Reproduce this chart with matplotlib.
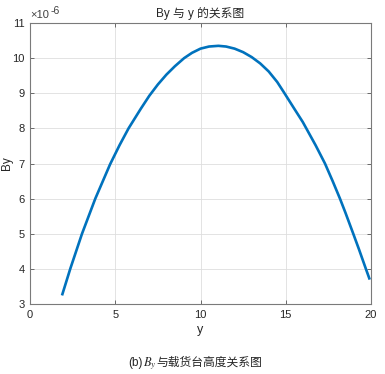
import matplotlib
matplotlib.use("Agg")
import matplotlib.pyplot as plt
from matplotlib.font_manager import FontProperties

plt.rcParams['font.family'] = ['Liberation Sans', 'Noto Sans CJK SC', 'DejaVu Sans']

# data (By in units of 1e-6)
y_pos = [1.9, 2.36, 3.05, 3.83, 4.70, 5.25, 5.78, 6.5, 7.0, 7.5, 8.0, 8.5, 9.04, 9.5,
         10.0, 10.5, 11.05, 11.5, 12.0, 12.5, 13.0, 13.5, 14.0, 14.5, 14.9, 15.5,
         16.0, 16.75, 17.3, 17.75, 18.18, 18.5, 18.96, 19.3, 19.7, 19.9]
By_val = [3.28, 4.0, 5.0, 6.0, 6.98, 7.52, 8.0, 8.56, 8.93, 9.25, 9.53, 9.77, 10.0, 10.15,
          10.27, 10.33, 10.35, 10.33, 10.27, 10.17, 10.03, 9.85, 9.62, 9.32, 9.02, 8.56,
          8.18, 7.52, 7.0, 6.5, 6.0, 5.6, 5.0, 4.55, 4.0, 3.73]
x_ticks = [0, 5, 10, 15, 20]
y_ticks = [3, 4, 5, 6, 7, 8, 9, 10, 11]
title_text = 'By 与 y 的关系图'
caption_parts = ['(b)', '$B_y$', '与载货台高度关系图']

fig = plt.figure(figsize=(3.85, 3.74), dpi=100)
ax = fig.add_axes([30/385, 70/374, 341/385, 281/374])

ax.plot(y_pos, By_val, color='#0072BD', linewidth=1.9, solid_joinstyle='round')
ax.set_xlim(0, 20)
ax.set_ylim(3, 11)
ax.set_xticks(x_ticks)
ax.set_yticks(y_ticks)

ax.grid(True, color='#dedede', linewidth=0.6)
ax.set_axisbelow(True)
for s in ax.spines.values():
    s.set_color('#7a7a7a')
    s.set_linewidth(0.8)
ax.tick_params(direction='in', length=3, width=0.6, colors='#555555',
               labelcolor='#262626', labelsize=8, top=True, right=True, pad=4)

ax.set_xlabel('y', fontsize=9, color='#262626', labelpad=3)
ax.set_ylabel('By', fontsize=8.5, color='#262626')
ax.yaxis.set_label_coords(-0.05, 0.5)
ax.set_title(title_text, fontsize=8.5, color='#262626', pad=4)

# exponent label
ax.annotate('×10', xy=(0, 1), xycoords='axes fraction', xytext=(0.5, 2.0),
            textcoords='offset points', fontsize=8, color='#404040',
            ha='left', va='bottom')
ax.annotate('-6', xy=(0, 1), xycoords='axes fraction', xytext=(14.8, 5.0),
            textcoords='offset points', fontsize=7.5, color='#404040',
            ha='left', va='bottom')

# caption built from three pieces placed side by side
fig.canvas.draw()
renderer = fig.canvas.get_renderer()
cap_y = 1 - 366/374
t1 = fig.text(0, cap_y, caption_parts[0], fontsize=8.5, color='#262626', va='baseline')
t2 = fig.text(0, cap_y, caption_parts[1],
              fontproperties=FontProperties(size=9, math_fontfamily='stix'),
              color='#262626', va='baseline')
t3 = fig.text(0, cap_y, caption_parts[2], fontsize=8.5, color='#262626', va='baseline')
widths = [t.get_window_extent(renderer).width for t in (t1, t2, t3)]
total = sum(widths)
x0 = 195 - total / 2
t1.set_x(x0 / 385)
t2.set_x((x0 + widths[0]) / 385)
t3.set_x((x0 + widths[0] + widths[1]) / 385)

fig.savefig('out.png', dpi=100)
